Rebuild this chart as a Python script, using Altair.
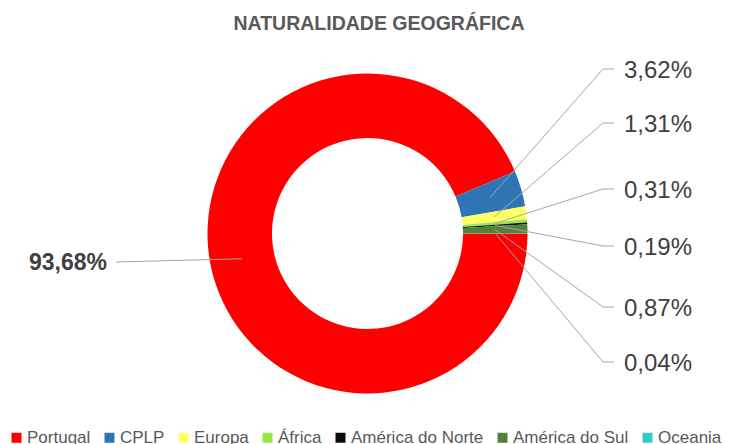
import math
import altair as alt
import pandas as pd

# ---------------- data ----------------
categories = ["Portugal", "CPLP", "Europa", "África", "América do Norte", "América do Sul", "Oceania"]
values = [93.68, 3.62, 1.31, 0.31, 0.19, 0.87, 0.04]
labels = ["93,68%", "3,62%", "1,31%", "0,31%", "0,19%", "0,87%", "0,04%"]
colors = ["#FF0000", "#2E75B6", "#FFFF66", "#9DE34A", "#0D0D0D", "#548235", "#33CCCC"]
title_text = "NATURALIDADE GEOGRÁFICA"

# ---------------- layout (view pixels) ----------------
W, H = 718, 436
CX, CY = 359.5, 225.5
R_OUT, R_IN = 160, 95.5
R_MID = (R_OUT + R_IN) / 2
START = math.pi / 2
right_label_y = [61, 115, 181, 238, 299, 354]   # elbow heights of the right-hand labels
ELBOW_X, LINE_END_X, TEXT_X = 595, 606, 616
LEFT_END = (108, 254)
LEFT_TEXT_X, LEFT_TEXT_Y = 99, 255

FONT = "Liberation Sans, Arial, sans-serif"
GREY = "#595959"
LABEL_C = "#404040"
LINE_C = "#A6A6A6"

df = pd.DataFrame({"category": categories, "value": values, "idx": list(range(len(values)))})

# anchor points of the leader lines (mid radius, mid angle of each slice)
total = sum(values)
cum = 0.0
anchors = []
for v in values:
    a = START + 2 * math.pi * (cum + v / 2) / total
    anchors.append((CX + R_MID * math.sin(a), CY - R_MID * math.cos(a)))
    cum += v

line_rows = []
text_rows = []
for i, lab in enumerate(labels):
    ax_, ay_ = anchors[i]
    if i == 0:
        line_rows += [
            {"key": lab, "o": 0, "x": ax_, "y": ay_},
            {"key": lab, "o": 1, "x": LEFT_END[0], "y": LEFT_END[1]},
        ]
    else:
        ey = right_label_y[i - 1]
        line_rows += [
            {"key": lab, "o": 0, "x": ax_, "y": ay_},
            {"key": lab, "o": 1, "x": ELBOW_X, "y": ey},
            {"key": lab, "o": 2, "x": LINE_END_X, "y": ey},
        ]
        text_rows.append({"label": lab, "x": TEXT_X, "y": ey + 2})

lines_df = pd.DataFrame(line_rows)
text_df = pd.DataFrame(text_rows)
left_df = pd.DataFrame([{"label": labels[0], "x": LEFT_TEXT_X, "y": LEFT_TEXT_Y}])
title_df = pd.DataFrame([{"t": title_text, "x": 371, "y": 16}])

arc = alt.Chart(df).mark_arc(radius=R_OUT, innerRadius=R_IN, strokeWidth=0).encode(
    theta=alt.Theta("value:Q", stack=True, scale=alt.Scale(range=[START, START + 2 * math.pi])),
    color=alt.Color(
        "category:N",
        sort=categories,
        scale=alt.Scale(domain=categories, range=colors),
        legend=alt.Legend(
            title=None,
            orient="none",
            legendX=0,
            legendY=421,
            direction="horizontal",
            columns=7,
            symbolType="square",
            symbolSize=100,
            symbolStrokeWidth=0,
            labelFont=FONT,
            labelFontSize=17,
            labelColor=GREY,
            labelOffset=2,
            columnPadding=10,
            padding=0,
        ),
    ),
    order=alt.Order("idx:Q"),
    x=alt.value(CX),
    y=alt.value(CY),
)

lines = alt.Chart(lines_df).mark_line(color=LINE_C, strokeWidth=1).encode(
    x=alt.X("x:Q", scale=None, axis=None),
    y=alt.Y("y:Q", scale=None, axis=None),
    detail="key:N",
    order="o:Q",
)

right_text = alt.Chart(text_df).mark_text(
    align="left", baseline="middle", font=FONT, fontSize=24, color=LABEL_C
).encode(
    x=alt.X("x:Q", scale=None, axis=None),
    y=alt.Y("y:Q", scale=None, axis=None),
    text="label:N",
)

left_text = alt.Chart(left_df).mark_text(
    align="right", baseline="middle", font=FONT, fontSize=23, fontWeight="bold", color=LABEL_C
).encode(
    x=alt.X("x:Q", scale=None, axis=None),
    y=alt.Y("y:Q", scale=None, axis=None),
    text="label:N",
)

title = alt.Chart(title_df).mark_text(
    align="center", baseline="middle", font=FONT, fontSize=19.5, fontWeight="bold", color=GREY
).encode(
    x=alt.X("x:Q", scale=None, axis=None),
    y=alt.Y("y:Q", scale=None, axis=None),
    text="t:N",
)

chart = alt.layer(arc, lines, right_text, left_text, title).properties(
    width=W,
    height=H,
    padding=0,
    autosize=alt.AutoSizeParams(type="none"),
    background="white",
).configure_view(stroke=None)

chart.save("out.html", embed_options={"renderer": "svg", "actions": False})
